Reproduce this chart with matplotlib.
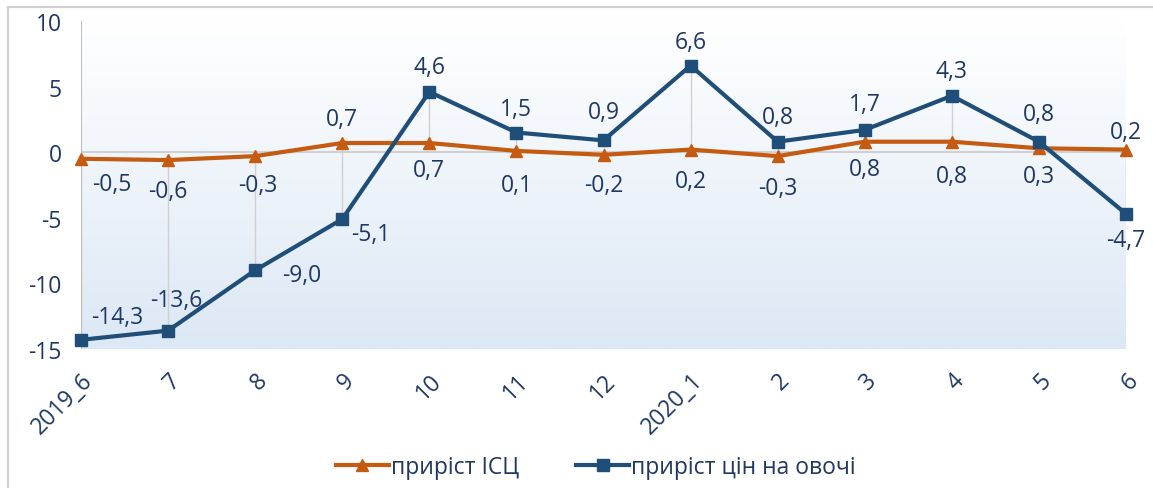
import matplotlib.pyplot as plt
import numpy as np
from matplotlib.lines import Line2D

# data
categories = ['2019_6', '7', '8', '9', '10', '11', '12', '2020_1', '2', '3', '4', '5', '6']
cpi_growth = [-0.5, -0.6, -0.3, 0.7, 0.7, 0.1, -0.2, 0.2, -0.3, 0.8, 0.8, 0.3, 0.2]
veg_growth = [-14.3, -13.6, -9.0, -5.1, 4.6, 1.5, 0.9, 6.6, 0.8, 1.7, 4.3, 0.8, -4.7]

# label offsets in pixels (dx, dy)
cpi_offsets = [(31, -25), (0, -31), (3, -29), (0, 24), (0, -27), (0, -34), (0, -30),
               (0, -31), (0, -32), (0, -27), (0, -34), (0, -28), (0, 18)]
veg_offsets = [(36, 23), (8, 31), (47, -5), (28, -15), (0, 25), (0, 24), (0, 28),
               (0, 24), (0, 25), (0, 26), (0, 25), (0, 28), (0, -26)]

orange = '#C55A11'
blue = '#1F4E79'
text_color = '#1F3864'
font = ['Open Sans', 'DejaVu Sans']
plt.rcParams['font.family'] = font

fig = plt.figure(figsize=(11.53, 4.89), dpi=100)
ax = fig.add_axes([81 / 1153, 1 - 350 / 489, 1045 / 1153, 328 / 489])

x = np.arange(len(categories))

# gradient background
grad = np.linspace(0, 1, 256).reshape(-1, 1)
top = np.array([1.0, 1.0, 1.0])
bottom = np.array([220, 232, 245]) / 255
img = top + (bottom - top) * grad[..., None]
ax.imshow(img, extent=[0, 12, -15, 10], aspect='auto', zorder=0, origin='upper')

# high-low lines
lo = np.minimum(cpi_growth, veg_growth)
hi = np.maximum(cpi_growth, veg_growth)
ax.vlines(x, lo, hi, color='#d0d0d0', lw=1, zorder=1)
ax.axhline(0, color='#d0d0d0', lw=1.5, zorder=1)
ax.axvline(0, color='#bfbfbf', lw=1.5, zorder=1)

ax.plot(x, cpi_growth, color=orange, lw=3, marker='^', ms=9, clip_on=False, zorder=3,
        label='приріст ІСЦ')
ax.plot(x, veg_growth, color=blue, lw=3, marker='s', ms=9, clip_on=False, zorder=4,
        label='приріст цін на овочі')

for xi, v, (dx, dy) in zip(x, cpi_growth, cpi_offsets):
    ax.annotate(f'{v:.1f}'.replace('.', ','), (xi, v), xytext=(dx, dy),
                textcoords='offset pixels', ha='center', va='center',
                fontsize=16.5, color=text_color, zorder=5, annotation_clip=False)
for xi, v, (dx, dy) in zip(x, veg_growth, veg_offsets):
    ax.annotate(f'{v:.1f}'.replace('.', ','), (xi, v), xytext=(dx, dy),
                textcoords='offset pixels', ha='center', va='center',
                fontsize=16.5, color=text_color, zorder=5, annotation_clip=False)

ax.set_xlim(0, 12)
ax.set_ylim(-15, 10)
ax.set_yticks([-15, -10, -5, 0, 5, 10])
ax.set_yticklabels([str(t) for t in [-15, -10, -5, 0, 5, 10]])
ax.set_xticks(x)
ax.set_xticklabels(categories, rotation=45, ha='right', rotation_mode='anchor')
ax.tick_params(axis='both', length=0, labelsize=16.5, labelcolor=text_color)
ax.tick_params(axis='y', pad=14)
ax.tick_params(axis='x', pad=14)
for s in ax.spines.values():
    s.set_visible(False)

leg = fig.legend(loc='center', bbox_to_anchor=(596 / 1153, 1 - 468 / 489), ncol=2,
                 frameon=False, fontsize=16.5, handlelength=2.3, handletextpad=0.1,
                 columnspacing=2.5)
for t in leg.get_texts():
    t.set_color(text_color)

# outer frame (top and left edges visible)
fig.add_artist(Line2D([8 / 1153, 1], [1 - 8 / 489, 1 - 8 / 489], color='#d0d0d0', lw=1.5,
                      transform=fig.transFigure))
fig.add_artist(Line2D([8 / 1153, 8 / 1153], [0, 1 - 8 / 489], color='#d0d0d0', lw=1.5,
                      transform=fig.transFigure))

fig.savefig('out.png', dpi=100)
